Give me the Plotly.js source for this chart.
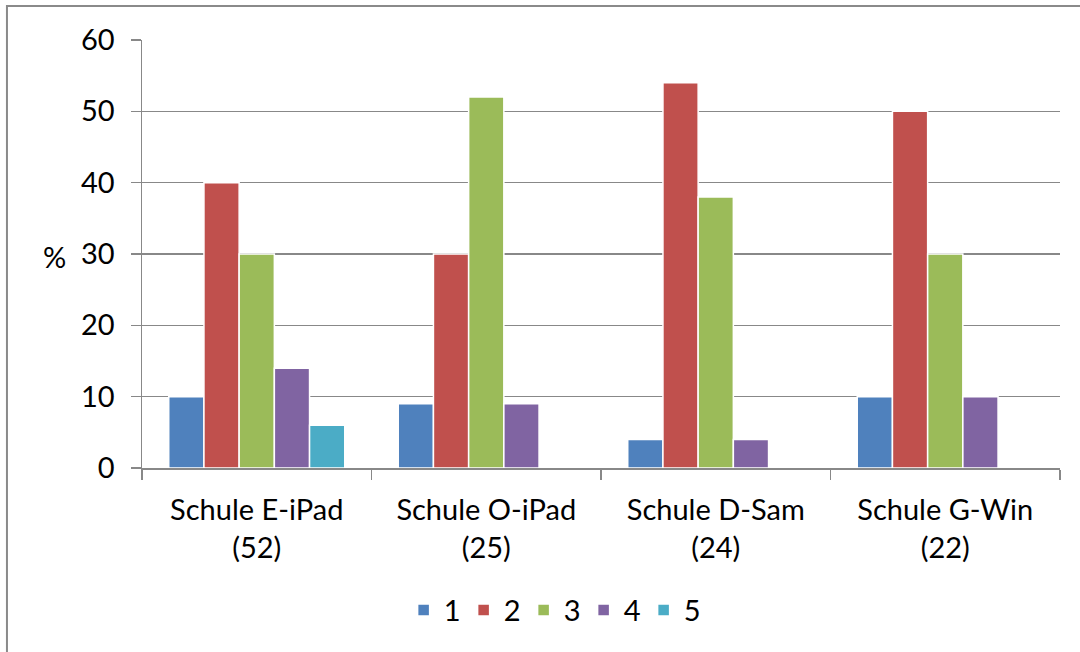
<!DOCTYPE html>
<html>
<head>
<meta charset="utf-8">
<script src="https://cdn.plot.ly/plotly-3.0.1.min.js"></script>
<style>html,body{margin:0;padding:0;background:#fff;}#chart{width:1080px;height:652px;}</style>
</head>
<body>
<div id="chart"></div>
<script>
const categories = ["Schule E-iPad<br>(52)", "Schule O-iPad<br>(25)", "Schule D-Sam<br>(24)", "Schule G-Win<br>(22)"];
const seriesNames = ["1", "2", "3", "4", "5"];
const series1 = [10, 9, 4, 10];
const series2 = [40, 30, 54, 50];
const series3 = [30, 52, 38, 30];
const series4 = [14, 9, 4, 10];
const series5 = [6, 0, 0, 0];
const yTicks = [0, 10, 20, 30, 40, 50, 60];
const colors = ["#4F81BD", "#C0504D", "#9BBB59", "#8064A2", "#4BACC6"];

const allSeries = [series1, series2, series3, series4, series5];
const traces = allSeries.map((vals, i) => ({
  type: "bar",
  name: seriesNames[i],
  x: categories,
  y: vals,
  marker: {color: colors[i], line: {color: "#ffffff", width: 1.5}},
  hoverinfo: "x+y+name"
}));

const FONT = "Lato, 'Open Sans', sans-serif";
const layout = {
  width: 1080, height: 652,
  margin: {l: 142, r: 20, t: 40, b: 184},
  paper_bgcolor: "#ffffff", plot_bgcolor: "#ffffff",
  barmode: "group", bargap: 0.233, bargroupgap: 0,
  font: {family: FONT, size: 29, color: "#000000"},
  showlegend: true,
  legend: {orientation: "h", x: 0.285, xanchor: "left", y: -0.332, yanchor: "middle",
           font: {family: FONT, size: 29, color: "#000"}, traceorder: "normal",
           entrywidth: 15, entrywidthmode: "pixels"},
  xaxis: {
    type: "category", showgrid: false, showline: true, linecolor: "#888888", linewidth: 1.5,
    ticks: "outside", tickson: "boundaries", ticklen: 10, tickcolor: "#888888", tickwidth: 1.5,
    ticklabelstandoff: 16,
    tickfont: {family: FONT, size: 29, color: "#000"}, zeroline: false
  },
  yaxis: {
    range: [0, 60], tickvals: yTicks, ticktext: yTicks.map(String),
    showgrid: true, gridcolor: "#888888", gridwidth: 1.5,
    showline: true, linecolor: "#888888", linewidth: 1.5,
    ticks: "outside", ticklen: 10, tickcolor: "#888888", tickwidth: 1.5,
    ticklabelstandoff: 10,
    tickfont: {family: FONT, size: 29, color: "#000"}, zeroline: false, fixedrange: true
  },
  annotations: [{
    text: "%", xref: "paper", yref: "paper", x: -0.0948, y: 0.493,
    xanchor: "center", yanchor: "middle", showarrow: false,
    font: {family: FONT, size: 29, color: "#000"}
  }],
  shapes: [{
    type: "rect", xref: "paper", yref: "paper",
    x0: -0.1471, x1: 1.03, y0: -0.46, y1: 1.0794,
    line: {color: "#8a8a8a", width: 2}, fillcolor: "rgba(0,0,0,0)", layer: "below"
  }]
};

Plotly.newPlot("chart", traces, layout, {displayModeBar: false, staticPlot: true});
</script>
</body>
</html>
